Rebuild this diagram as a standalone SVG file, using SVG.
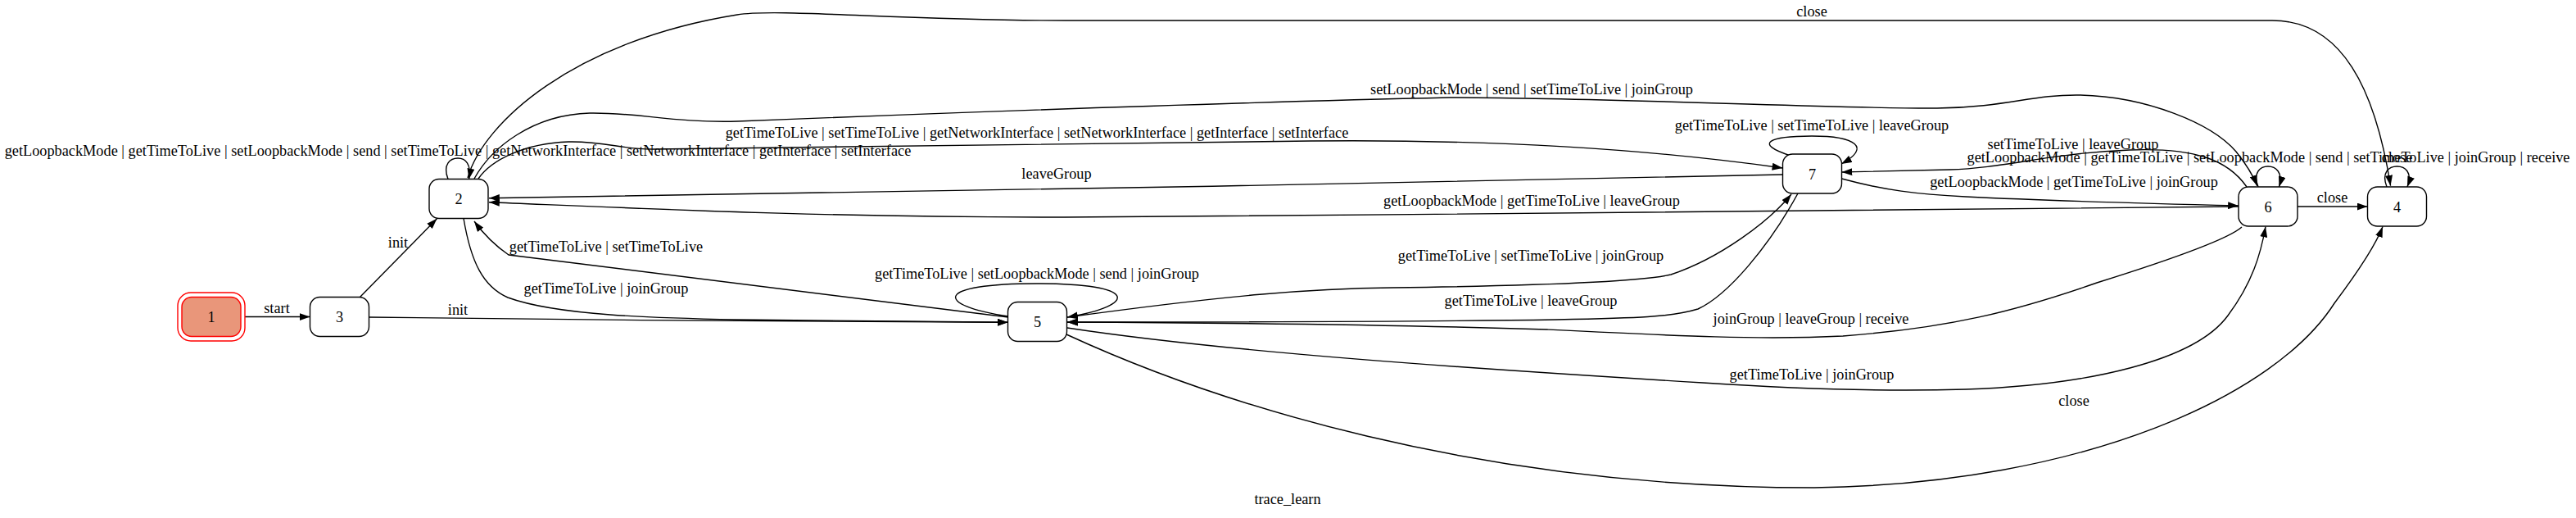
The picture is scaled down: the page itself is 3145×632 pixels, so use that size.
<svg xmlns="http://www.w3.org/2000/svg" width="3145" height="632" viewBox="0 0 3145 632">
<style>
  .node rect { fill: #ffffff; stroke: #000000; stroke-width: 1.4; }
  .node text, .lbl { font-family: "Liberation Serif", "Times New Roman", serif; font-size: 18.3px; fill: #000000; text-anchor: middle; }
  .edge { fill: none; stroke: #000000; stroke-width: 1.4; marker-end: url(#arrow); }
  .plain { fill: none; stroke: #000000; stroke-width: 1.4; }
</style>
<defs>
  <marker id="arrow" viewBox="0 0 10 7" refX="10" refY="3.5" markerWidth="13" markerHeight="9" orient="auto" markerUnits="userSpaceOnUse">
    <path d="M0,0 L10,3.5 L0,7 z" fill="#000000"/>
  </marker>
</defs>
<rect x="0" y="0" width="3145" height="632" fill="#ffffff"/>

<g id="connectors">
  <!-- 1 -> 3 start -->
  <path class="edge" d="M299,386.5 L378.5,386.5"/>
  <!-- 3 -> 2 init -->
  <path class="edge" d="M439.7,362.3 L533.5,266.7"/>
  <!-- 3 -> 5 init -->
  <path class="edge" d="M450.5,387 C 700,390 1000,393 1230.5,393.3"/>
  <!-- 2 self loop -->
  <path class="edge" d="M547,218.5 C 540,200 550,193 559,193 C 568,193 576,200 572.5,218.5"/>
  <!-- 2 -> 4 close -->
  <path class="edge" d="M571,217 C 590,150 700,50 900,18 C 950,10 1100,25 1300,25 L 2774,25 C 2860,25 2900,110 2918.6,226.7"/>
  <!-- 2 -> 6 setLoopbackMode ... -->
  <path class="edge" d="M579,218 C 600,180 650,140 720,138 C 780,137 820,150 900,148 C 1100,140 1500,125 1770,119 C 2000,120 2250,133 2365,132 C 2450,131 2480,115 2540,116 C 2620,118 2700,150 2730,185 C 2742,200 2750,212 2755.7,226.7"/>
  <!-- 2 -> 7 -->
  <path class="edge" d="M584,218 C 600,195 640,175 694,173 C 740,172 760,183 800,182 C 1000,180 1300,176 1600,172 C 1800,170 2000,180 2176.5,205"/>
  <!-- 7 -> 2 leaveGroup -->
  <path class="edge" d="M2176.5,213 C 1700,225 1000,235 597,241.7"/>
  <!-- 6 -> 2 -->
  <path class="edge" d="M2733,252 C 2400,254 1800,262 1300,265 C 1000,265 800,255 597,246.7"/>
  <!-- 5 -> 2 -->
  <path class="edge" d="M1231,387 L621,311 C 605,300 590,285 579,270"/>
  <!-- 2 -> 5 -->
  <path class="edge" d="M566,266.5 C 575,320 590,350 620,363 C 680,385 800,388 900,390 C 1050,392 1150,393 1230.5,393.3"/>
  <!-- 5 self loop -->
  <path class="edge" d="M1231,386 C 1140,372 1140,346 1266,346 C 1390,346 1390,372 1303,387"/>
  <!-- 5 -> 7 -->
  <path class="edge" d="M1303,387 C 1500,360 1600,352 1700,351 C 1850,349 2000,345 2040,335 C 2100,315 2160,270 2187,237"/>
  <!-- 7 -> 5 -->
  <path class="edge" d="M2195,236 C 2160,300 2110,360 2073,377 C 2040,387 2000,388 1900,390 C 1700,393 1500,393 1303,393"/>
  <!-- 6 -> 5 -->
  <path class="edge" d="M2737,277 C 2720,292 2640,320 2560,345 C 2460,380 2380,400 2250,410 C 2150,415 2050,410 1888,402 C 1700,396 1500,394 1303,393"/>
  <!-- 5 -> 6 -->
  <path class="edge" d="M1303,400 C 1500,430 1800,450 2079,467 C 2200,475 2300,478 2400,475 C 2550,470 2680,440 2720,385 C 2750,345 2760,310 2766,276.5"/>
  <!-- 5 -> 4 close -->
  <path class="edge" d="M1302,408 C 1480,490 1800,595 2215,595 C 2550,590 2780,480 2850,370 C 2880,330 2900,300 2909,276.5"/>
  <!-- 6 -> 7 -->
  <path class="edge" d="M2743,228 C 2720,195 2680,180 2600,183 C 2500,187 2450,205 2380,207 C 2330,208 2290,209 2248.5,210"/>
  <!-- 7 -> 6 -->
  <path class="edge" d="M2248.5,218 C 2300,232 2340,237 2400,240 C 2500,245 2650,249 2733,251"/>
  <!-- 7 self loop -->
  <path class="edge" d="M2186,190 C 2140,175 2160,166 2212,166 C 2266,166 2285,180 2248,200"/>
  <!-- 6 self loop -->
  <path class="edge" d="M2757,228 C 2750,210 2760,203 2769,203 C 2778,203 2788,210 2782.5,228"/>
  <!-- 6 -> 4 close -->
  <path class="edge" d="M2805,252 L2890.5,252"/>
  <!-- 4 self loop -->
  <path class="edge" d="M2914,228 C 2907,210 2917,203 2926.5,203 C 2936,203 2946,210 2939,228"/>

  <g id="edge-labels">
    <text class="lbl" x="338" y="382">start</text>
    <text class="lbl" x="486" y="302">init</text>
    <text class="lbl" x="559" y="384">init</text>
    <text class="lbl" x="559" y="190">getLoopbackMode | getTimeToLive | setLoopbackMode | send | setTimeToLive | getNetworkInterface | setNetworkInterface | getInterface | setInterface</text>
    <text class="lbl" x="2212" y="20">close</text>
    <text class="lbl" x="1870" y="115">setLoopbackMode | send | setTimeToLive | joinGroup</text>
    <text class="lbl" x="1266" y="168">getTimeToLive | setTimeToLive | getNetworkInterface | setNetworkInterface | getInterface | setInterface</text>
    <text class="lbl" x="1290" y="218">leaveGroup</text>
    <text class="lbl" x="1870" y="251">getLoopbackMode | getTimeToLive | leaveGroup</text>
    <text class="lbl" x="740" y="307">getTimeToLive | setTimeToLive</text>
    <text class="lbl" x="740" y="358">getTimeToLive | joinGroup</text>
    <text class="lbl" x="1266" y="340">getTimeToLive | setLoopbackMode | send | joinGroup</text>
    <text class="lbl" x="1869" y="318">getTimeToLive | setTimeToLive | joinGroup</text>
    <text class="lbl" x="1869" y="373">getTimeToLive | leaveGroup</text>
    <text class="lbl" x="2211" y="395">joinGroup | leaveGroup | receive</text>
    <text class="lbl" x="2212" y="463">getTimeToLive | joinGroup</text>
    <text class="lbl" x="2532" y="495">close</text>
    <text class="lbl" x="2212" y="159">getTimeToLive | setTimeToLive | leaveGroup</text>
    <text class="lbl" x="2531" y="182">setTimeToLive | leaveGroup</text>
    <text class="lbl" x="2532" y="228">getLoopbackMode | getTimeToLive | joinGroup</text>
    <text class="lbl" x="2769.5" y="198">getLoopbackMode | getTimeToLive | setLoopbackMode | send | setTimeToLive | joinGroup | receive</text>
    <text class="lbl" x="2847.5" y="247">close</text>
    <text class="lbl" x="2926.5" y="198">close</text>
  </g>
</g>

<g id="node-1" class="node">
  <rect x="217" y="357" width="82" height="59" rx="16" ry="16" style="fill:none;stroke:#ff0000"/>
  <rect x="222" y="362.5" width="72" height="48" rx="12" ry="12" style="fill:#e9967a;stroke:#ff0000"/>
  <text x="258" y="393">1</text>
</g>
<g id="node-3" class="node">
  <rect x="378.5" y="362.5" width="72" height="48" rx="12" ry="12"/>
  <text x="414.5" y="393">3</text>
</g>
<g id="node-2" class="node">
  <rect x="524" y="218.5" width="72" height="48" rx="12" ry="12"/>
  <text x="560" y="249">2</text>
</g>
<g id="node-5" class="node">
  <rect x="1230.5" y="368.5" width="72" height="48" rx="12" ry="12"/>
  <text x="1266.5" y="399">5</text>
</g>
<g id="node-7" class="node">
  <rect x="2176.5" y="188" width="72" height="48" rx="12" ry="12"/>
  <text x="2212.5" y="218.5">7</text>
</g>
<g id="node-6" class="node">
  <rect x="2733" y="228" width="72" height="48" rx="12" ry="12"/>
  <text x="2769" y="258.5">6</text>
</g>
<g id="node-4" class="node">
  <rect x="2890.5" y="228" width="72" height="48" rx="12" ry="12"/>
  <text x="2926.5" y="258.5">4</text>
</g>

<text class="lbl" x="1572" y="615">trace_learn</text>
</svg>
